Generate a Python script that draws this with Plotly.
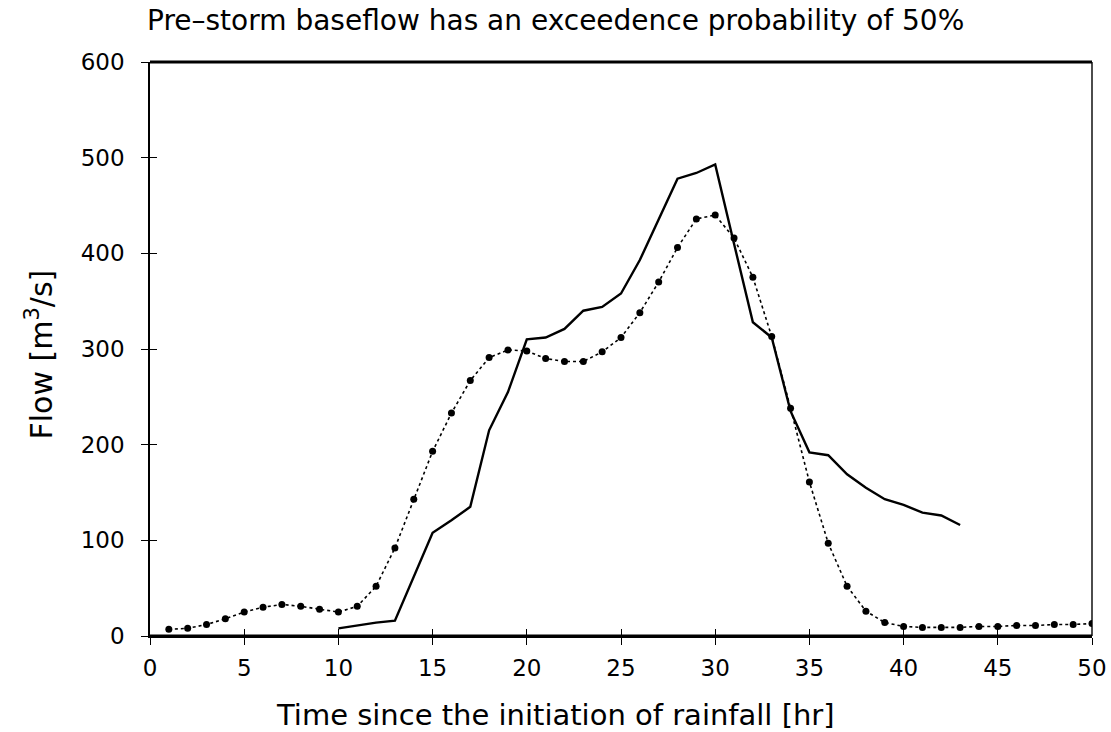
import plotly.graph_objects as go

# hydrograph data
hours_dotted = list(range(1, 51))
flow_dotted = [7, 8, 12, 18, 25, 30, 33, 31, 28, 25,
               31, 52, 92, 143, 193, 233, 267, 291, 299, 298,
               290, 287, 287, 297, 312, 338, 370, 406, 436, 440,
               416, 375, 313, 238, 161, 97, 52, 26, 14, 10,
               9, 9, 9, 10, 10, 11, 11, 12, 12, 13]

hours_solid = list(range(10, 44))
flow_solid = [8, 11, 14, 16, 62, 108, 121, 135, 215, 255,
              310, 312, 321, 340, 344, 358, 393, 436, 478, 484,
              493, 410, 328, 312, 235, 192, 189, 169, 155, 143,
              137, 129, 126, 116]

x_ticks = [0, 5, 10, 15, 20, 25, 30, 35, 40, 45, 50]
y_ticks = [0, 100, 200, 300, 400, 500, 600]

FONT = "DejaVu Sans"

fig = go.Figure()

fig.add_trace(go.Scatter(
    x=hours_dotted, y=flow_dotted,
    mode="lines+markers",
    line=dict(color="black", width=1.6, dash="dot"),
    marker=dict(color="black", size=7),
    showlegend=False,
))
fig.add_trace(go.Scatter(
    x=hours_solid, y=flow_solid,
    mode="lines",
    line=dict(color="black", width=2.4),
    showlegend=False,
))

axis_common = dict(
    showgrid=False, zeroline=False, automargin=False,
    showline=True, linecolor="black", linewidth=1.5,
    ticks="outside", ticklen=7, tickwidth=1.3, tickcolor="black",
    tickfont=dict(family=FONT, size=23, color="black"),
)

fig.update_layout(
    width=1111, height=732,
    paper_bgcolor="white", plot_bgcolor="white",
    margin=dict(l=150, r=19, t=62, b=96),
    title=dict(
        text="Pre\u2013storm baseflow has an exceedence probability of 50%",
        x=147 / 1111, xanchor="left", xref="container",
        y=0.972, yanchor="middle",
        font=dict(family=FONT, size=28, color="black"),
    ),
    xaxis=dict(range=[0, 50], tickvals=x_ticks, ticklabelstandoff=4, **axis_common),
    yaxis=dict(range=[0, 600], tickvals=y_ticks, ticklabelstandoff=12, **axis_common),
    # overlay axes give the inward half of the crossing tick marks
    xaxis2=dict(overlaying="x", matches="x", range=[0, 50], tickvals=x_ticks,
                ticks="inside", ticklen=7, tickwidth=1.3, tickcolor="black",
                showticklabels=False, showgrid=False, zeroline=False, side="bottom"),
    yaxis2=dict(overlaying="y", matches="y", range=[0, 600], tickvals=y_ticks,
                ticks="inside", ticklen=7, tickwidth=1.3, tickcolor="black",
                showticklabels=False, showgrid=False, zeroline=False, side="left"),
)

# dummy trace so the overlay axes render
fig.add_trace(go.Scatter(x=[None], y=[None], xaxis="x2", yaxis="y2",
                         showlegend=False, hoverinfo="skip"))

# axis titles placed like the scan (x title sits left of the plot centre)
fig.add_annotation(text="Time since the initiation of rainfall [hr]",
                   xref="paper", yref="paper", x=0.43, y=-0.138,
                   xanchor="center", yanchor="middle", showarrow=False,
                   font=dict(family=FONT, size=29, color="black"))
fig.add_annotation(text="Flow [m<sup>3</sup>/s]",
                   xref="paper", yref="paper", x=-0.117, y=0.49,
                   xanchor="center", yanchor="middle", showarrow=False,
                   textangle=-90,
                   font=dict(family=FONT, size=30, color="black"))

# frame: heavy top/bottom, light right side
fig.add_shape(type="line", xref="paper", yref="paper", x0=0, x1=1, y0=0, y1=0,
              line=dict(color="black", width=3.2))
fig.add_shape(type="line", xref="paper", yref="paper", x0=0, x1=1, y0=1, y1=1,
              line=dict(color="black", width=3.2))
fig.add_shape(type="line", xref="paper", yref="paper", x0=1, x1=1, y0=0, y1=1,
              line=dict(color="black", width=1.4))

fig.write_html("out.html", config={"displayModeBar": False},
               post_script="document.body.style.margin='0';")
